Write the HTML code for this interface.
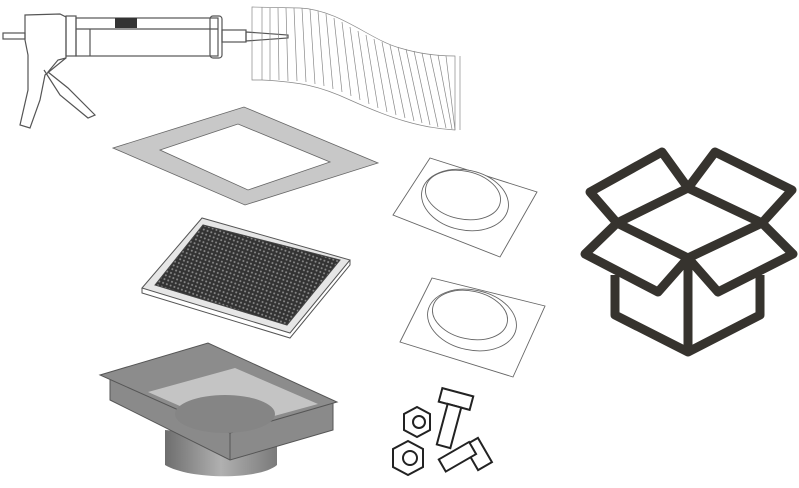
<!DOCTYPE html>
<html><head><meta charset="utf-8"><style>html,body{margin:0;padding:0;background:#fff}svg{display:block}</style></head>
<body>
<svg width="799" height="488" viewBox="0 0 799 488" xmlns="http://www.w3.org/2000/svg">
<defs>
<pattern id="mesh" width="4" height="4" patternUnits="userSpaceOnUse" patternTransform="rotate(20)">
<rect width="4" height="4" fill="#333"/><circle cx="2" cy="2" r="1" fill="#8a8a8a"/>
</pattern>
<linearGradient id="cyl" x1="0" x2="1"><stop offset="0" stop-color="#6e6e6e"/><stop offset="0.5" stop-color="#b0b0b0"/><stop offset="1" stop-color="#7a7a7a"/></linearGradient>
</defs>
<!-- caulk gun -->
<g fill="none" stroke="#555" stroke-width="1.2">
<rect x="3" y="33" width="22" height="6"/>
<path d="M25 15 L60 14 L66 17 L66 58 L45 75 L40 100 L30 128 L20 125 L28 90 L28 55 L25 40 Z"/>
<path d="M66 58 L58 60 L48 72 L68 88 L95 115 L88 118 L60 95 L44 70"/>
<rect x="66" y="16" width="10" height="40"/>
<rect x="76" y="18" width="142" height="38"/>
<line x1="76" y1="29" x2="218" y2="29"/>
<line x1="90" y1="29" x2="90" y2="56"/>
<rect x="210" y="16" width="12" height="42" rx="3"/>
<rect x="222" y="30" width="24" height="12"/>
<path d="M246 32 L288 35 L288 38 L246 41 Z"/>
</g>
<rect x="115" y="18" width="22" height="10" fill="#333"/>
<!-- flex duct -->
<g fill="none" stroke="#888" stroke-width="0.7">
<path d="M252 7 L300 8 C340 10 370 40 400 48 C420 54 440 56 455 56 L455 130 C420 128 390 118 350 100 C320 86 300 82 262 80 L252 80 Z"/>
<path d="M262 7 L262 80 M270 8 L270 80 M278 8 L279 80 M286 8 L288 81 M294 8 L297 81 M302 8 L306 82 M310 9 L315 84 M318 11 L324 86 M326 14 L333 89 M334 18 L342 92 M342 22 L351 96 M350 27 L360 100 M358 31 L369 104 M366 35 L378 108 M374 39 L387 112 M382 42 L396 115 M390 45 L405 118 M398 47 L414 121 M406 49 L422 123 M414 51 L430 125 M422 53 L438 127 M430 54 L446 128 M438 55 L452 129 M446 56 L455 130"/>
<line x1="460" y1="56" x2="460" y2="130"/>
</g>
<!-- frame -->
<path d="M113 148 L244 107 L378 163 L245 205 Z M160 150 L238 124 L330 162 L248 190 Z" fill="#c8c8c8" fill-rule="evenodd" stroke="#666" stroke-width="0.8"/>
<!-- filter -->
<path d="M142 288 L202 218 L350 260 L290 333 Z" fill="#e6e6e6" stroke="#555" stroke-width="1"/>
<path d="M155 285 L203 225 L340 260 L287 325 Z" fill="url(#mesh)" stroke="#444"/>
<path d="M142 288 L142 293 L290 338 L350 265 L350 260" fill="none" stroke="#555"/>
<!-- plenum -->
<path d="M165 430 L165 465 C190 480 260 480 277 465 L277 440 Z" fill="url(#cyl)"/>
<path d="M110 400 L230 460 L333 430 L333 402 L230 433 L110 375 Z" fill="#8a8a8a" stroke="#555"/>
<path d="M230 433 L230 460" stroke="#555"/>
<path d="M100 375 L208 343 L337 402 L230 433 Z" fill="#8c8c8c" stroke="#555"/>
<path d="M148 392 L235 368 L318 404 L230 428 Z" fill="#c4c4c4"/>
<ellipse cx="225" cy="414" rx="50" ry="19" fill="#858585"/>
<!-- plates -->
<g fill="#fff" stroke="#666" stroke-width="0.9">
<path d="M393 215 L430 158 L537 192 L500 257 Z"/>
<ellipse cx="465" cy="200" rx="44" ry="30" transform="rotate(12 465 200)"/>
<ellipse cx="463" cy="195" rx="38" ry="24" transform="rotate(12 463 195)"/>
<path d="M400 342 L432 278 L545 306 L513 377 Z"/>
<ellipse cx="472" cy="320" rx="45" ry="30" transform="rotate(12 472 320)"/>
<ellipse cx="470" cy="315" rx="38" ry="24" transform="rotate(12 470 315)"/>
</g>
<!-- bolts/nuts -->
<g fill="#fff" stroke="#222" stroke-width="2">
<polygon points="417,407 430,414 430,430 417,437 404,430 404,414"/>
<circle cx="419" cy="422" r="6"/>
<polygon points="408,441 423,449 423,467 408,475 393,467 393,449"/>
<circle cx="410" cy="458" r="7"/>
<rect x="440" y="392" width="32" height="14" transform="rotate(15 456 399)"/>
<rect x="442" y="405" width="14" height="42" transform="rotate(15 449 426)"/>
<rect x="470" y="440" width="16" height="28" transform="rotate(-30 478 454)"/>
<rect x="440" y="450" width="35" height="14" transform="rotate(-30 457 457)"/>
</g>
<!-- box icon -->
<g fill="none" stroke="#36332e" stroke-width="9" stroke-linejoin="round">
<path d="M617 223 L688 188 L762 223 L688 258 Z"/>
<path d="M617 223 L590 192 L662 152 L688 188"/>
<path d="M688 188 L715 152 L792 190 L762 223"/>
<path d="M617 223 L585 254 L658 292 L688 258"/>
<path d="M688 258 L718 292 L793 254 L762 223"/>
<path d="M615 275 L615 315 L688 352 L760 315 L760 275"/>
<path d="M688 258 L688 352"/>
</g>
</svg>
</body></html>
